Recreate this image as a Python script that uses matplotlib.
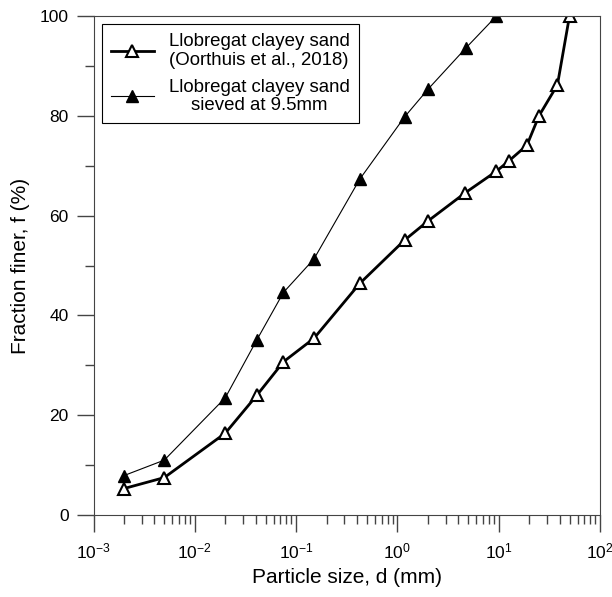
import numpy as np
import matplotlib
matplotlib.use('Agg')
import matplotlib.pyplot as plt
from matplotlib.ticker import LogLocator, MultipleLocator

plt.rcParams['font.family'] = ['Liberation Sans', 'DejaVu Sans']
plt.rcParams['mathtext.fontset'] = 'custom'
plt.rcParams['mathtext.rm'] = 'Liberation Sans'
plt.rcParams['mathtext.it'] = 'Liberation Sans:italic'
plt.rcParams['mathtext.bf'] = 'Liberation Sans:bold'
plt.rcParams['axes.unicode_minus'] = False

# Llobregat clayey sand (Oorthuis et al., 2018)
d_orig = [0.002, 0.005, 0.02, 0.041, 0.075, 0.15, 0.425, 1.18, 2.0, 4.7, 9.5, 12.5, 19.0, 25.0, 38.0, 50.0]
f_orig = [5.3, 7.5, 16.4, 24.0, 30.7, 35.4, 46.4, 55.1, 58.9, 64.6, 68.9, 70.9, 74.1, 80.0, 86.2, 100.0]

# sieved at 9.5 mm
d_siev = [0.002, 0.005, 0.02, 0.041, 0.075, 0.15, 0.425, 1.18, 2.0, 4.75, 9.5]
f_siev = [7.9, 11.0, 23.5, 35.1, 44.6, 51.3, 67.3, 79.8, 85.3, 93.6, 100.0]

fig = plt.figure(figsize=(6.12, 5.97), dpi=100)
ax = fig.add_axes([93.5 / 612, 82 / 597, 506.5 / 612, 499 / 597])

ax.plot(d_orig, f_orig, color='black', lw=2.0, marker='^', ms=9,
        mfc='white', mec='black', mew=1.5,
        label='Llobregat clayey sand\n(Oorthuis et al., 2018)')
ax.plot(d_siev, f_siev, color='black', lw=0.8, marker='^', ms=9,
        mfc='black', mec='black',
        label='Llobregat clayey sand\nsieved at 9.5mm')

ax.set_xscale('log')
ax.set_xlim(1e-3, 1e2)
ax.set_ylim(0, 100)
ax.xaxis.set_major_locator(LogLocator(base=10, numticks=10))
ax.xaxis.set_minor_locator(LogLocator(base=10, subs=np.arange(2, 10), numticks=20))
ax.yaxis.set_major_locator(MultipleLocator(20))
ax.yaxis.set_minor_locator(MultipleLocator(10))
ax.tick_params(which='major', direction='out', length=12, width=1,
               labelsize=12.5, color='#444444', pad=6)
ax.tick_params(which='minor', direction='out', length=6.5, width=1, color='#444444')
ax.tick_params(axis='x', which='major', pad=7)

for s in ax.spines.values():
    s.set_color('#444444')

ax.set_xlabel('Particle size, d (mm)', fontsize=15, labelpad=5)
ax.set_ylabel('Fraction finer, f (%)', fontsize=15, labelpad=7)

leg = ax.legend(loc='upper left', bbox_to_anchor=(0.016, 0.984), borderaxespad=0,
                fontsize=13.4, frameon=True, fancybox=False, edgecolor='black',
                framealpha=1, handlelength=2.3, handletextpad=0.8,
                labelspacing=0.55, borderpad=0.5)
leg.get_frame().set_linewidth(0.8)
for t in leg.get_texts():
    t.set_multialignment('center')
    t.set_linespacing(1.1)

fig.savefig('out.png', dpi=100)
